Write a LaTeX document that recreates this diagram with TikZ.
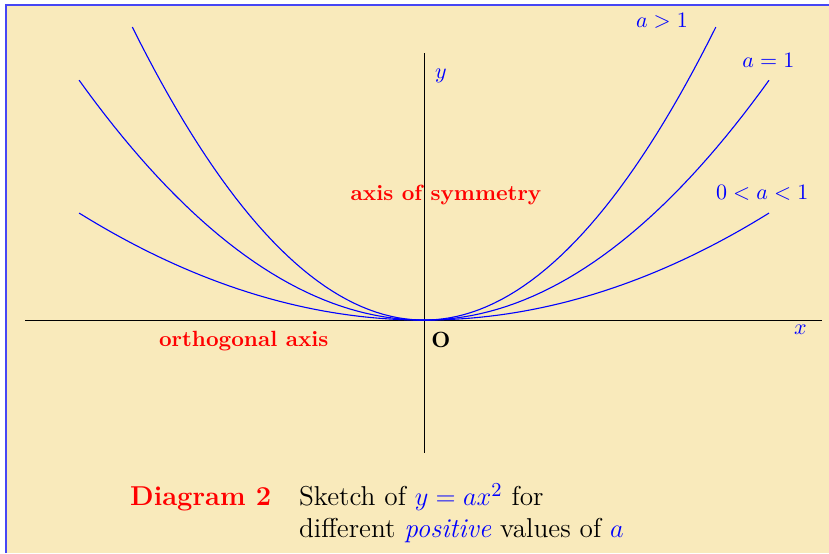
\documentclass[tikz,border=0pt]{standalone}
\usepackage{tikz}
\usetikzlibrary{positioning}
\definecolor{paper}{RGB}{249,234,187}
\definecolor{framec}{RGB}{70,70,245}
\newcommand{\capsize}{\fontsize{12.4}{14.2}\selectfont}

\begin{document}
\begin{tikzpicture}[
    axis/.style={black, line width=0.5pt},
    curve/.style={blue, line width=0.5pt},
    mathtag/.style={text=blue},
    axisname/.style={text=red, font=\bfseries}
]
% Page and frame
\useasboundingbox (-6.773,-3.722) rectangle (6.467,5.112);
\fill[paper] (-6.677,-3.722) rectangle (6.467,5.032);
\draw[framec, line width=0.8pt] (-6.677,-3.722) -- (-6.677,5.032) -- (6.467,5.032);

% Axes
\coordinate (O) at (0,0);
\coordinate (xl) at (-6.37,0);
\coordinate (xr) at (6.36,0);
\coordinate (yb) at (0,-2.12);
\coordinate (yt) at (0,4.27);
\draw[axis] (xl) -- (xr);
\draw[axis] (yb) -- (yt);

% Parabolas
\draw[curve] plot[domain=-4.66:4.66, samples=80] (\x, {0.2155*\x*\x});
\draw[curve] plot[domain=-5.51:5.51, samples=80] (\x, {0.1262*\x*\x});
\draw[curve] plot[domain=-5.51:5.51, samples=80] (\x, {0.0563*\x*\x});

% Labels
\node[mathtag] (agt) at (3.80,4.78) {$a>1$};
\node[mathtag] (aeq) at (5.50,4.15) {$a=1$};
\node[mathtag] (alt) at (5.40,2.03) {$0<a<1$};
\node[mathtag] (ylab) at (0.27,3.90) {$y$};
\node[mathtag] (xlab) at (6.01,-0.16) {$x$};
\node[axisname] (sym) at (0.35,1.99) {axis of symmetry};
\node[axisname] (orth) at (-2.88,-0.33) {orthogonal axis};
\node (olab) at (0.27,-0.32) {\textbf{O}};

% Caption
\node[anchor=base west, text=red, font=\capsize\bfseries, inner sep=0pt] (diag) at (-4.70,-2.966) {Diagram 2};
\node[base right=0.43cm of diag, font=\capsize, inner sep=0pt] (sketch)
    {\begin{tabular}[t]{@{}l@{}}
     Sketch of \textcolor{blue}{$y=ax^2$} for\\
     different \textcolor{blue}{\emph{positive}} values of \textcolor{blue}{$a$}
     \end{tabular}};
\end{tikzpicture}
\end{document}
